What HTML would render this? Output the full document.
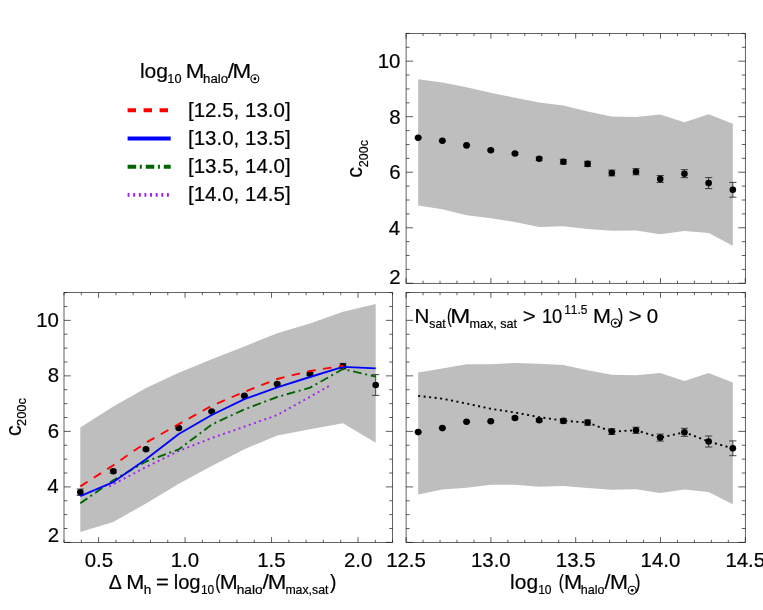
<!DOCTYPE html>
<html><head><meta charset="utf-8"><title>c200c</title>
<style>html,body{margin:0;padding:0;background:#fff}svg{display:block;will-change:transform}text{font-family:"Liberation Sans",sans-serif;fill:#000}</style></head><body>
<svg width="763" height="610" viewBox="0 0 763 610">
<rect width="763" height="610" fill="#fff"/>
<polygon fill="#bebebe" points="418.15,79.3 442.36,82.4 466.56,87.2 490.77,92.7 514.98,97.7 539.18,102.6 563.39,105.4 587.6,111.4 611.81,116.6 636.01,117 660.22,114.4 684.43,122.3 708.63,114.2 732.84,123.7 732.84,245.7 708.63,233 684.43,231 660.22,234.3 636.01,230.4 611.81,230.8 587.6,229 563.39,226.2 539.18,227 514.98,222 490.77,218.3 466.56,215.2 442.36,209.2 418.15,205.5"/>
<path d="M418.15 137.2V138.2M414.55 137.2h7.2M414.55 138.2h7.2M442.36 140.2V141.2M438.76 140.2h7.2M438.76 141.2h7.2M466.56 144.7V146.1M462.96 144.7h7.2M462.96 146.1h7.2M490.77 149.4V151M487.17 149.4h7.2M487.17 151h7.2M514.98 152.5V154.5M511.38 152.5h7.2M511.38 154.5h7.2M539.18 157.2V160.2M535.58 157.2h7.2M535.58 160.2h7.2M563.39 159.4V164M559.79 159.4h7.2M559.79 164h7.2M587.6 161.3V166.5M584 161.3h7.2M584 166.5h7.2M611.81 170.1V175.9M608.21 170.1h7.2M608.21 175.9h7.2M636.01 168.6V174.8M632.41 168.6h7.2M632.41 174.8h7.2M660.22 175.5V182.5M656.62 175.5h7.2M656.62 182.5h7.2M684.43 169.7V177.7M680.83 169.7h7.2M680.83 177.7h7.2M708.63 177.6V188.6M705.03 177.6h7.2M705.03 188.6h7.2M732.84 182.4V197.2M729.24 182.4h7.2M729.24 197.2h7.2" stroke="#1a1a1a" stroke-width="0.8" fill="none"/>
<circle cx="418.15" cy="137.7" r="3.3"/>
<circle cx="442.36" cy="140.7" r="3.3"/>
<circle cx="466.56" cy="145.4" r="3.3"/>
<circle cx="490.77" cy="150.2" r="3.3"/>
<circle cx="514.98" cy="153.5" r="3.3"/>
<circle cx="539.18" cy="158.7" r="3.3"/>
<circle cx="563.39" cy="161.7" r="3.3"/>
<circle cx="587.6" cy="163.9" r="3.3"/>
<circle cx="611.81" cy="173" r="3.3"/>
<circle cx="636.01" cy="171.7" r="3.3"/>
<circle cx="660.22" cy="179" r="3.3"/>
<circle cx="684.43" cy="173.7" r="3.3"/>
<circle cx="708.63" cy="183.1" r="3.3"/>
<circle cx="732.84" cy="189.8" r="3.3"/>
<path d="M406.1 283.3v-5.3M406.1 33.4v5.3M423.06 283.3v-2.65M423.06 33.4v2.65M440.02 283.3v-2.65M440.02 33.4v2.65M456.98 283.3v-2.65M456.98 33.4v2.65M473.94 283.3v-2.65M473.94 33.4v2.65M490.9 283.3v-5.3M490.9 33.4v5.3M507.86 283.3v-2.65M507.86 33.4v2.65M524.82 283.3v-2.65M524.82 33.4v2.65M541.78 283.3v-2.65M541.78 33.4v2.65M558.74 283.3v-2.65M558.74 33.4v2.65M575.7 283.3v-5.3M575.7 33.4v5.3M592.66 283.3v-2.65M592.66 33.4v2.65M609.62 283.3v-2.65M609.62 33.4v2.65M626.58 283.3v-2.65M626.58 33.4v2.65M643.54 283.3v-2.65M643.54 33.4v2.65M660.5 283.3v-5.3M660.5 33.4v5.3M677.46 283.3v-2.65M677.46 33.4v2.65M694.42 283.3v-2.65M694.42 33.4v2.65M711.38 283.3v-2.65M711.38 33.4v2.65M728.34 283.3v-2.65M728.34 33.4v2.65M745.3 283.3v-5.3M745.3 33.4v5.3M406.1 283.3h6.98M745.3 283.3h-6.98M406.1 269.42h3.49M745.3 269.42h-3.49M406.1 255.53h3.49M745.3 255.53h-3.49M406.1 241.65h3.49M745.3 241.65h-3.49M406.1 227.77h6.98M745.3 227.77h-6.98M406.1 213.88h3.49M745.3 213.88h-3.49M406.1 200h3.49M745.3 200h-3.49M406.1 186.12h3.49M745.3 186.12h-3.49M406.1 172.23h6.98M745.3 172.23h-6.98M406.1 158.35h3.49M745.3 158.35h-3.49M406.1 144.47h3.49M745.3 144.47h-3.49M406.1 130.58h3.49M745.3 130.58h-3.49M406.1 116.7h6.98M745.3 116.7h-6.98M406.1 102.82h3.49M745.3 102.82h-3.49M406.1 88.93h3.49M745.3 88.93h-3.49M406.1 75.05h3.49M745.3 75.05h-3.49M406.1 61.17h6.98M745.3 61.17h-6.98M406.1 47.28h3.49M745.3 47.28h-3.49M406.1 33.4h3.49M745.3 33.4h-3.49" stroke="#1a1a1a" stroke-width="0.7" fill="none"/>
<rect x="406.1" y="33.4" width="339.2" height="249.9" fill="none" stroke="#1a1a1a" stroke-width="0.68"/>
<polygon fill="#bebebe" points="418.15,372.4 442.36,368.4 466.56,364.3 490.77,364.3 514.98,362.9 539.18,363.8 563.39,365.1 587.6,370.2 611.81,374.8 636.01,375.2 660.22,373.1 684.43,380.9 708.63,373 732.84,382.5 732.84,504.3 708.63,492 684.43,489.6 660.22,492.9 636.01,489.2 611.81,489.8 587.6,488 563.39,485.9 539.18,486.7 514.98,484.8 490.77,484.8 466.56,487.8 442.36,489.6 418.15,494.6"/>
<polyline points="418.15,395.9 442.36,398.7 466.56,403.5 490.77,408.8 514.98,412.5 539.18,417.1 563.39,420.7 587.6,422.6 611.81,431.6 636.01,430.3 660.22,437.6 684.43,432.3 708.63,441.5 732.84,448.3" fill="none" stroke="#000" stroke-width="1.9" stroke-dasharray="2 3.532"/>
<path d="M418.15 431.6V432.6M414.55 431.6h7.2M414.55 432.6h7.2M442.36 427.6V428.6M438.76 427.6h7.2M438.76 428.6h7.2M466.56 421.1V422.5M462.96 421.1h7.2M462.96 422.5h7.2M490.77 420.5V422.1M487.17 420.5h7.2M487.17 422.1h7.2M514.98 417V419M511.38 417h7.2M511.38 419h7.2M539.18 418.7V421.7M535.58 418.7h7.2M535.58 421.7h7.2M563.39 418.6V423.2M559.79 418.6h7.2M559.79 423.2h7.2M587.6 420V425.2M584 420h7.2M584 425.2h7.2M611.81 428.7V434.5M608.21 428.7h7.2M608.21 434.5h7.2M636.01 427.2V433.4M632.41 427.2h7.2M632.41 433.4h7.2M660.22 434.1V441.1M656.62 434.1h7.2M656.62 441.1h7.2M684.43 428.3V436.3M680.83 428.3h7.2M680.83 436.3h7.2M708.63 436V447M705.03 436h7.2M705.03 447h7.2M732.84 440.9V455.7M729.24 440.9h7.2M729.24 455.7h7.2" stroke="#1a1a1a" stroke-width="0.8" fill="none"/>
<circle cx="418.15" cy="432.1" r="3.3"/>
<circle cx="442.36" cy="428.1" r="3.3"/>
<circle cx="466.56" cy="421.8" r="3.3"/>
<circle cx="490.77" cy="421.3" r="3.3"/>
<circle cx="514.98" cy="418" r="3.3"/>
<circle cx="539.18" cy="420.2" r="3.3"/>
<circle cx="563.39" cy="420.9" r="3.3"/>
<circle cx="587.6" cy="422.6" r="3.3"/>
<circle cx="611.81" cy="431.6" r="3.3"/>
<circle cx="636.01" cy="430.3" r="3.3"/>
<circle cx="660.22" cy="437.6" r="3.3"/>
<circle cx="684.43" cy="432.3" r="3.3"/>
<circle cx="708.63" cy="441.5" r="3.3"/>
<circle cx="732.84" cy="448.3" r="3.3"/>
<path d="M406.1 542.4v-5.3M406.1 292.6v5.3M423.06 542.4v-2.65M423.06 292.6v2.65M440.02 542.4v-2.65M440.02 292.6v2.65M456.98 542.4v-2.65M456.98 292.6v2.65M473.94 542.4v-2.65M473.94 292.6v2.65M490.9 542.4v-5.3M490.9 292.6v5.3M507.86 542.4v-2.65M507.86 292.6v2.65M524.82 542.4v-2.65M524.82 292.6v2.65M541.78 542.4v-2.65M541.78 292.6v2.65M558.74 542.4v-2.65M558.74 292.6v2.65M575.7 542.4v-5.3M575.7 292.6v5.3M592.66 542.4v-2.65M592.66 292.6v2.65M609.62 542.4v-2.65M609.62 292.6v2.65M626.58 542.4v-2.65M626.58 292.6v2.65M643.54 542.4v-2.65M643.54 292.6v2.65M660.5 542.4v-5.3M660.5 292.6v5.3M677.46 542.4v-2.65M677.46 292.6v2.65M694.42 542.4v-2.65M694.42 292.6v2.65M711.38 542.4v-2.65M711.38 292.6v2.65M728.34 542.4v-2.65M728.34 292.6v2.65M745.3 542.4v-5.3M745.3 292.6v5.3M406.1 542.4h6.98M745.3 542.4h-6.98M406.1 528.52h3.49M745.3 528.52h-3.49M406.1 514.64h3.49M745.3 514.64h-3.49M406.1 500.77h3.49M745.3 500.77h-3.49M406.1 486.89h6.98M745.3 486.89h-6.98M406.1 473.01h3.49M745.3 473.01h-3.49M406.1 459.13h3.49M745.3 459.13h-3.49M406.1 445.26h3.49M745.3 445.26h-3.49M406.1 431.38h6.98M745.3 431.38h-6.98M406.1 417.5h3.49M745.3 417.5h-3.49M406.1 403.62h3.49M745.3 403.62h-3.49M406.1 389.74h3.49M745.3 389.74h-3.49M406.1 375.87h6.98M745.3 375.87h-6.98M406.1 361.99h3.49M745.3 361.99h-3.49M406.1 348.11h3.49M745.3 348.11h-3.49M406.1 334.23h3.49M745.3 334.23h-3.49M406.1 320.36h6.98M745.3 320.36h-6.98M406.1 306.48h3.49M745.3 306.48h-3.49M406.1 292.6h3.49M745.3 292.6h-3.49" stroke="#1a1a1a" stroke-width="0.7" fill="none"/>
<rect x="406.1" y="292.6" width="339.2" height="249.8" fill="none" stroke="#1a1a1a" stroke-width="0.68"/>
<polygon fill="#bebebe" points="80.3,427.6 113.3,406.5 146,388.1 178.8,372.7 211.7,359.3 244.4,346.4 277.2,333.2 310,323.6 343,311.7 375.7,304.1 375.7,442.8 343,423.2 310,429.3 277.2,435.4 244.4,449.2 211.7,466.1 178.8,483.8 146,503.4 113.3,522.1 80.3,531.9"/>
<path d="M80.3 489V495.4M76.7 489h7.2M76.7 495.4h7.2M113.3 469.8V472.8M109.7 469.8h7.2M109.7 472.8h7.2M146 448.2V450.2M142.4 448.2h7.2M142.4 450.2h7.2M178.8 427.2V428.8M175.2 427.2h7.2M175.2 428.8h7.2M211.7 410.8V412.2M208.1 410.8h7.2M208.1 412.2h7.2M244.4 395.2V396.6M240.8 395.2h7.2M240.8 396.6h7.2M277.2 383.2V384.8M273.6 383.2h7.2M273.6 384.8h7.2M310 372.9V375.3M306.4 372.9h7.2M306.4 375.3h7.2M343 363.4V369M339.4 363.4h7.2M339.4 369h7.2M375.7 374.6V395.4M372.1 374.6h7.2M372.1 395.4h7.2" stroke="#1a1a1a" stroke-width="0.8" fill="none"/>
<circle cx="80.3" cy="492.2" r="3.3"/>
<circle cx="113.3" cy="471.3" r="3.3"/>
<circle cx="146" cy="449.2" r="3.3"/>
<circle cx="178.8" cy="428" r="3.3"/>
<circle cx="211.7" cy="411.5" r="3.3"/>
<circle cx="244.4" cy="395.9" r="3.3"/>
<circle cx="277.2" cy="384" r="3.3"/>
<circle cx="310" cy="374.1" r="3.3"/>
<circle cx="343" cy="366.2" r="3.3"/>
<circle cx="375.7" cy="385" r="3.3"/>
<polyline points="109.2,486.4 146,467.1 178.8,451 211.7,438 244.4,426.7 277.2,415 309.1,397.3 328.9,386.1" fill="none" stroke="#a020f0" stroke-width="1.9" stroke-dasharray="2 3.457"/>
<polyline points="80.3,503.3 113.3,480.3 146,461.5 178.8,449.4 211.7,424.5 244.4,409.4 277.2,397 310,387.7 343,369 375.7,376.7" fill="none" stroke="#006400" stroke-width="1.9" stroke-dasharray="8.6 3.7 2 3.8"/>
<polyline points="80.3,496.1 113.3,482.1 146,459.2 178.8,434 211.7,415 244.4,399.2 277.2,387.3 310,377 343,366.8 375.7,368.3" fill="none" stroke="#0000ff" stroke-width="1.85" stroke-linejoin="round"/>
<polyline points="80.3,486.4 113.3,465.2 146,442.6 178.8,424.1 211.7,405.8 244.4,391.8 277.2,379 310,371 343,365.7" fill="none" stroke="#ff0000" stroke-width="1.85" stroke-dasharray="8.6 7.4"/>
<path d="M64 542.4v-2.65M64 292.6v2.65M81.29 542.4v-2.65M81.29 292.6v2.65M98.59 542.4v-5.3M98.59 292.6v5.3M115.88 542.4v-2.65M115.88 292.6v2.65M133.18 542.4v-2.65M133.18 292.6v2.65M150.47 542.4v-2.65M150.47 292.6v2.65M167.77 542.4v-2.65M167.77 292.6v2.65M185.06 542.4v-5.3M185.06 292.6v5.3M202.36 542.4v-2.65M202.36 292.6v2.65M219.65 542.4v-2.65M219.65 292.6v2.65M236.95 542.4v-2.65M236.95 292.6v2.65M254.24 542.4v-2.65M254.24 292.6v2.65M271.54 542.4v-5.3M271.54 292.6v5.3M288.83 542.4v-2.65M288.83 292.6v2.65M306.13 542.4v-2.65M306.13 292.6v2.65M323.42 542.4v-2.65M323.42 292.6v2.65M340.72 542.4v-2.65M340.72 292.6v2.65M358.01 542.4v-5.3M358.01 292.6v5.3M375.31 542.4v-2.65M375.31 292.6v2.65M392.6 542.4v-2.65M392.6 292.6v2.65M64 542.4h6.77M392.6 542.4h-6.77M64 528.52h3.39M392.6 528.52h-3.39M64 514.64h3.39M392.6 514.64h-3.39M64 500.77h3.39M392.6 500.77h-3.39M64 486.89h6.77M392.6 486.89h-6.77M64 473.01h3.39M392.6 473.01h-3.39M64 459.13h3.39M392.6 459.13h-3.39M64 445.26h3.39M392.6 445.26h-3.39M64 431.38h6.77M392.6 431.38h-6.77M64 417.5h3.39M392.6 417.5h-3.39M64 403.62h3.39M392.6 403.62h-3.39M64 389.74h3.39M392.6 389.74h-3.39M64 375.87h6.77M392.6 375.87h-6.77M64 361.99h3.39M392.6 361.99h-3.39M64 348.11h3.39M392.6 348.11h-3.39M64 334.23h3.39M392.6 334.23h-3.39M64 320.36h6.77M392.6 320.36h-6.77M64 306.48h3.39M392.6 306.48h-3.39M64 292.6h3.39M392.6 292.6h-3.39" stroke="#1a1a1a" stroke-width="0.7" fill="none"/>
<rect x="64" y="292.6" width="328.6" height="249.8" fill="none" stroke="#1a1a1a" stroke-width="0.68"/>
<g stroke="#000" stroke-width="0.2" style="font-kerning:none">
<text x="377.71" y="68.32" font-size="20.4">10</text>
<text x="389.14" y="123.85" font-size="20.4">8</text>
<text x="389.15" y="179.38" font-size="20.4">6</text>
<text x="388.85" y="234.92" font-size="20.4">4</text>
<text x="389.28" y="283.8" font-size="20.4">2</text>
<text x="36.21" y="326.61" font-size="20.4">10</text>
<text x="47.64" y="382.12" font-size="20.4">8</text>
<text x="47.65" y="437.63" font-size="20.4">6</text>
<text x="47.35" y="493.14" font-size="20.4">4</text>
<text x="47.78" y="542" font-size="20.4">2</text>
<text x="84.64" y="567.4" font-size="20.4">0.5</text>
<text x="170.71" y="567.4" font-size="20.4">1.0</text>
<text x="257.21" y="567.4" font-size="20.4">1.5</text>
<text x="343.92" y="567.4" font-size="20.4">2.0</text>
<text x="386.2" y="567.4" font-size="20.4">12.5</text>
<text x="470.97" y="567.4" font-size="20.4">13.0</text>
<text x="555.8" y="567.4" font-size="20.4">13.5</text>
<text x="640.57" y="567.4" font-size="20.4">14.0</text>
<text x="725.4" y="567.4" font-size="20.4">14.5</text>
<text transform="translate(108.82 589) scale(0.9596 1.0000)" font-size="20.4">Δ</text>
<text transform="translate(126.32 589) scale(1.0625 1.0000)" font-size="20.4">M</text>
<text transform="translate(143.66 594.2) scale(1.0723 1.0000)" font-size="12.6">h</text>
<text transform="translate(156.02 589) scale(1.0796 1.0000)" font-size="20.4">=</text>
<text transform="translate(173.64 589) scale(0.9905 1.0000)" font-size="20.4">log</text>
<text transform="translate(200.99 594.2) scale(0.9472 1.0000)" font-size="12.6">10</text>
<text transform="translate(215.24 589) scale(0.7580 1.0000)" font-size="20.4">(</text>
<text transform="translate(219.73 589) scale(1.0552 1.0000)" font-size="20.4">M</text>
<text transform="translate(236.65 594.2) scale(1.0884 1.0000)" font-size="12.6">halo</text>
<text transform="translate(262.5 589) scale(1.1115 1.0000)" font-size="20.4">/</text>
<text transform="translate(267.77 589) scale(1.0919 1.0000)" font-size="20.4">M</text>
<text transform="translate(285.38 594.2) scale(0.9772 1.0000)" font-size="12.6">max,sat</text>
<text transform="translate(329.99 589) scale(0.9429 1.0000)" font-size="20.4">)</text>
<text transform="translate(510.09 589) scale(1.0272 1.0000)" font-size="20.4">log</text>
<text transform="translate(538.18 594.2) scale(0.9552 1.0000)" font-size="12.6">10</text>
<text transform="translate(558.64 589) scale(0.7580 1.0000)" font-size="20.4">(</text>
<text transform="translate(563.91 589) scale(1.0699 1.0000)" font-size="20.4">M</text>
<text transform="translate(580.73 594.2) scale(0.9947 1.0000)" font-size="12.6">halo</text>
<text transform="translate(604.6 589) scale(1.0410 1.0000)" font-size="20.4">/</text>
<text transform="translate(610.03 589) scale(1.0552 1.0000)" font-size="20.4">M</text>
<text transform="translate(634.9 589) scale(0.7950 1.0000)" font-size="20.4">)</text>
<circle cx="632.2" cy="590.3" r="4" fill="none" stroke="#000" stroke-width="1.1"/>
<circle cx="632.2" cy="590.3" r="1.4" stroke="none"/>
<text transform="translate(362.45 177.71) rotate(-90) scale(0.9879 1.0000)" font-size="21.6">c</text>
<text transform="translate(368 167.13) rotate(-90) scale(0.9903 1.0000)" font-size="12.6">200c</text>
<text transform="translate(20.55 436.01) rotate(-90) scale(0.9879 1.0000)" font-size="21.6">c</text>
<text transform="translate(25.7 425.95) rotate(-90) scale(1.0206 1.0000)" font-size="12.6">200c</text>
<text transform="translate(139.88 78) scale(1.0312 1.0000)" font-size="20.4">log</text>
<text transform="translate(167.33 82.8) scale(1.0109 1.0000)" font-size="12.6">10</text>
<text transform="translate(185.76 78) scale(1.0992 1.0000)" font-size="20.4">M</text>
<text transform="translate(203.08 82.8) scale(1.0482 1.0000)" font-size="12.6">halo</text>
<text transform="translate(227.8 78) scale(1.1115 1.0000)" font-size="20.4">/</text>
<text transform="translate(232.46 78) scale(1.0992 1.0000)" font-size="20.4">M</text>
<circle cx="254.9" cy="78.75" r="3.95" fill="none" stroke="#000" stroke-width="1.1"/>
<circle cx="254.9" cy="78.75" r="1.4" stroke="none"/>
<text transform="translate(187.94 117.2) scale(1.0063 1.0000)" font-size="20.4">[12.5, 13.0]</text>
<text transform="translate(187.94 145.2) scale(1.0063 1.0000)" font-size="20.4">[13.0, 13.5]</text>
<text transform="translate(187.94 173.1) scale(1.0063 1.0000)" font-size="20.4">[13.5, 14.0]</text>
<text transform="translate(187.94 201.1) scale(1.0063 1.0000)" font-size="20.4">[14.0, 14.5]</text>
<text transform="translate(414.51 322.9) scale(1.0092 1.0000)" font-size="20.4">N</text>
<text transform="translate(429.36 327.5) scale(0.9716 1.0000)" font-size="12.6">sat</text>
<text transform="translate(447.11 322.9) scale(0.7026 1.0000)" font-size="20.4">(</text>
<text transform="translate(450.23 322.9) scale(1.1798 1.0000)" font-size="20.4">M</text>
<text transform="translate(469.46 327.5) scale(1.0003 1.0000)" font-size="12.6">max, sat</text>
<text transform="translate(522.8 322.9) scale(1.0897 1.0000)" font-size="20.4">&gt;</text>
<text transform="translate(541.9 322.9) scale(0.8997 1.0000)" font-size="20.4">10</text>
<text transform="translate(564.2 313.9) scale(0.9421 1.0000)" font-size="12.6">11.5</text>
<text transform="translate(593.03 322.9) scale(1.0552 1.0000)" font-size="20.4">M</text>
<text transform="translate(617.91 322.9) scale(0.7765 1.0000)" font-size="20.4">)</text>
<text transform="translate(628.7 322.9) scale(1.0897 1.0000)" font-size="20.4">&gt;</text>
<text transform="translate(646.7 322.9) scale(1.0049 1.0000)" font-size="20.4">0</text>
<circle cx="615.4" cy="323.1" r="4.1" fill="none" stroke="#000" stroke-width="1.1"/>
<circle cx="615.4" cy="323.1" r="1.4" stroke="none"/>
</g>
<path d="M127.6 110.3H168" stroke="#ff0000" stroke-width="3.9" stroke-dasharray="8.4 7.6"/>
<path d="M127.6 138.45H170.7" stroke="#0000ff" stroke-width="3.9"/>
<path d="M127.6 166.8H170.7" stroke="#006400" stroke-width="3.9" stroke-dasharray="8.6 3.6 2 3.9"/>
<path d="M127.6 194.9H169.2" stroke="#a020f0" stroke-width="3.9" stroke-dasharray="1.9 3.72"/>
</svg></body></html>
